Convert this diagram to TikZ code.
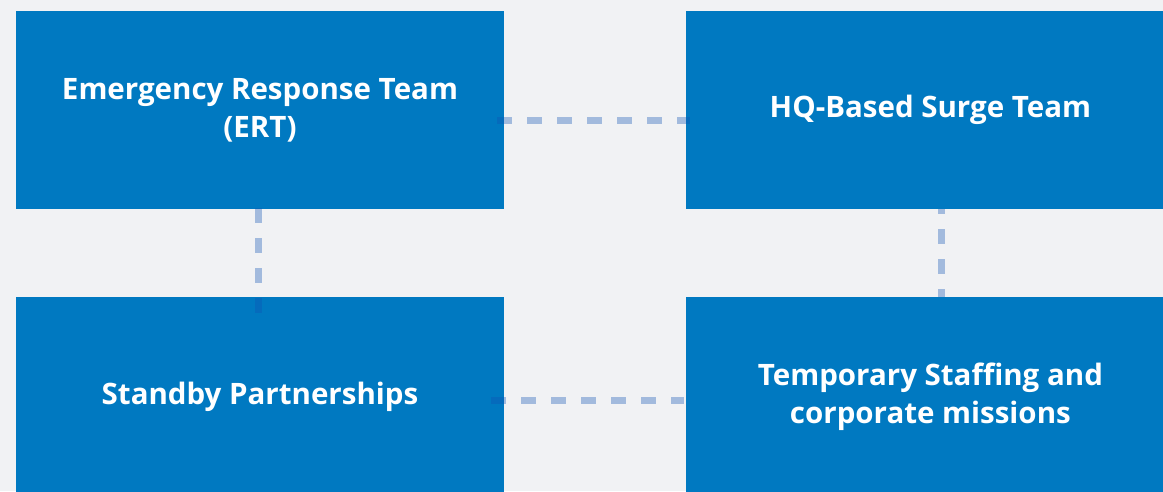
\documentclass[tikz,border=0pt]{standalone}
\usepackage{fontspec}
\setmainfont{Open Sans}[UprightFont=* Bold]
\usepackage{tikz}
\usetikzlibrary{positioning}

\definecolor{unitblue}{RGB}{0,121,193}
\definecolor{linkblue}{RGB}{15,82,180}
\definecolor{pagegray}{RGB}{241,242,244}

\tikzset{
  team/.style={rectangle,fill=unitblue,text=white,minimum width=488pt,minimum height=198pt,
    inner sep=0pt,align=center,font=\fontsize{29.5}{38}\selectfont},
  link/.style={draw=linkblue,draw opacity=0.35,line width=7pt,dash pattern=on 15pt off 15pt}
}

\begin{document}
\begin{tikzpicture}

  \fill [pagegray] (0pt,0pt) rectangle (1163pt,491pt);
  \useasboundingbox (0pt,0pt) rectangle (1163pt,491pt);

  \node [team] (ert) at (260pt,381pt) {Emergency Response Team\\(ERT)};
  \node [team,right=182pt of ert] (surge) {HQ-Based Surge Team};
  \node [team,below=88pt of ert] (standby) {Standby Partnerships};
  \node [team,below=88pt of surge] (temp) {Temporary Staffing and\\corporate missions};

  \path [link]
    ([xshift=-7pt,yshift=-11pt]ert.east) edge ([xshift=4pt,yshift=-11pt]surge.west)
    ([xshift=-2pt,yshift=1pt]ert.south) edge ([xshift=-2pt,yshift=-16pt]standby.north)
    ([xshift=-13pt,yshift=-4pt]standby.east) edge ([xshift=-2pt,yshift=-4pt]temp.west);
  \path [link,dash phase=10pt]
    ([xshift=11pt]surge.south) edge ([xshift=11pt]temp.north);

\end{tikzpicture}
\end{document}
